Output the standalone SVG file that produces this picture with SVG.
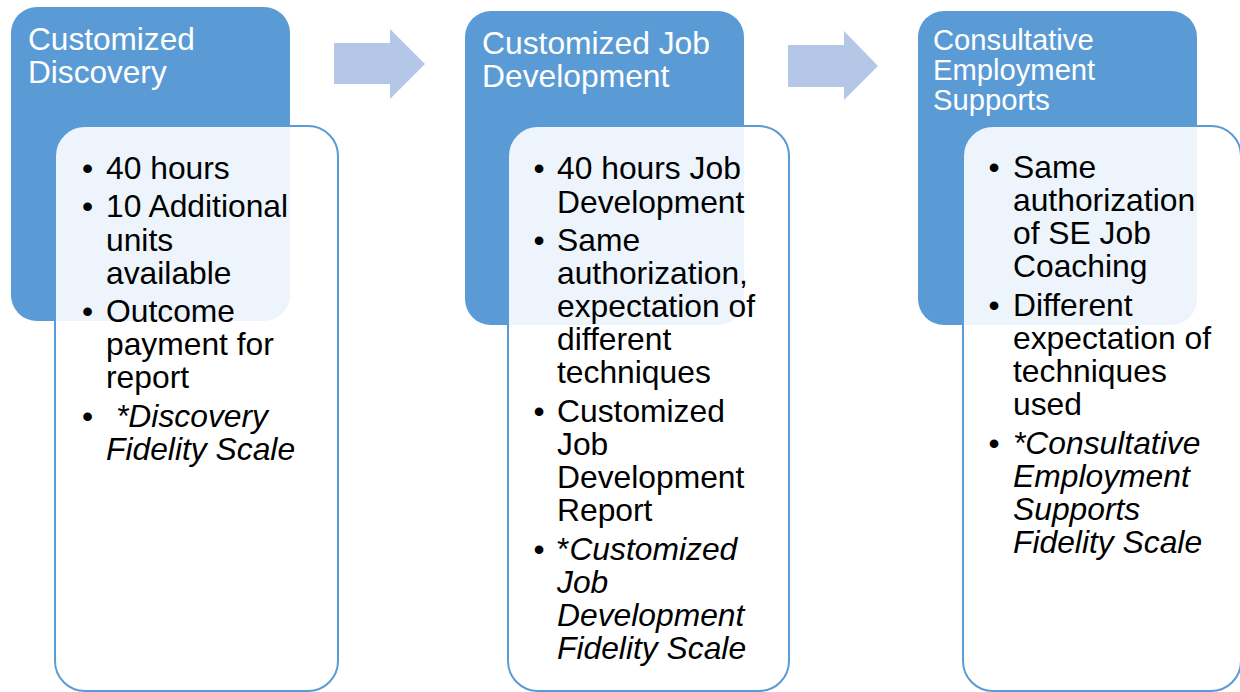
<svg xmlns="http://www.w3.org/2000/svg" width="1240" height="692" viewBox="0 0 1240 692">
  <style>
    .head { fill: #5B9BD5; }
    .body { fill: #FFFFFF; fill-opacity: 0.89; stroke: #5B9BD5; stroke-width: 2; }
    .arrow { fill: #B4C7E7; }
    .title { font-family: "Liberation Sans", Arial, sans-serif; fill: #FFFFFF; }
    .item { font-family: "Liberation Sans", Arial, sans-serif; font-size: 31.8px; fill: #000000; }
    .em { font-style: italic; }
  </style>

  <!-- connectors: block arrows between the stages -->
  <g id="connectors">
    <polygon class="arrow" points="334,43 390,43 390,29 425,64 390,99 390,84 334,84"/>
    <polygon class="arrow" points="788,45 844,45 844,31 878,66 844,100 844,87 788,87"/>
  </g>

  <!-- stage 1 -->
  <g id="customized-discovery">
    <rect class="head" x="11" y="7" width="279" height="314" rx="26"/>
    <text class="title" font-size="31.6" x="28" y="50">Customized</text>
    <text class="title" font-size="31.6" x="28" y="83">Discovery</text>
    <rect class="body" x="55" y="126" width="283" height="565" rx="30"/>
    <g class="item">
      <text x="82" y="179">•</text><text x="106" y="179">40 hours</text>
      <text x="82" y="217">•</text><text x="106" y="217">10 Additional</text>
      <text x="106" y="250.5">units</text>
      <text x="106" y="283.5">available</text>
      <text x="82" y="321.5">•</text><text x="106" y="321.5">Outcome</text>
      <text x="106" y="355">payment for</text>
      <text x="106" y="388">report</text>
      <text x="82" y="426.5">•</text><text class="em" x="116" y="426.5">*Discovery</text>
      <text class="em" x="106" y="459.5">Fidelity Scale</text>
    </g>
  </g>

  <!-- stage 2 -->
  <g id="customized-job-development">
    <rect class="head" x="465" y="11" width="279" height="314" rx="26"/>
    <text class="title" font-size="31.8" x="482" y="54">Customized Job</text>
    <text class="title" font-size="31.8" x="482" y="87">Development</text>
    <rect class="body" x="508" y="126" width="281" height="565" rx="30"/>
    <g class="item">
      <text x="533.5" y="179">•</text><text x="557" y="179">40 hours Job</text>
      <text x="557" y="212.5">Development</text>
      <text x="533.5" y="251">•</text><text x="557" y="251">Same</text>
      <text x="557" y="284">authorization,</text>
      <text x="557" y="317">expectation of</text>
      <text x="557" y="350">different</text>
      <text x="557" y="383">techniques</text>
      <text x="533.5" y="421.5">•</text><text x="557" y="421.5">Customized</text>
      <text x="557" y="454.5">Job</text>
      <text x="557" y="487.5">Development</text>
      <text x="557" y="520.5">Report</text>
      <text x="533.5" y="559.5">•</text><text x="557" y="559.5">*<tspan class="em">Customized</tspan></text>
      <text class="em" x="557" y="592.5">Job</text>
      <text class="em" x="557" y="625.5">Development</text>
      <text class="em" x="557" y="658.5">Fidelity Scale</text>
    </g>
  </g>

  <!-- stage 3 -->
  <g id="consultative-employment-supports">
    <rect class="head" x="918" y="11" width="279" height="314" rx="26"/>
    <text class="title" font-size="29.2" x="933" y="50">Consultative</text>
    <text class="title" font-size="29.2" x="933" y="80">Employment</text>
    <text class="title" font-size="29.2" x="933" y="110">Supports</text>
    <rect class="body" x="963" y="126" width="278" height="565" rx="30"/>
    <g class="item">
      <text x="988.5" y="178">•</text><text x="1013" y="178">Same</text>
      <text x="1013" y="211">authorization</text>
      <text x="1013" y="244">of SE Job</text>
      <text x="1013" y="277">Coaching</text>
      <text x="988.5" y="316">•</text><text x="1013" y="316">Different</text>
      <text x="1013" y="349">expectation of</text>
      <text x="1013" y="382">techniques</text>
      <text x="1013" y="415">used</text>
      <text x="988.5" y="454">•</text><text class="em" x="1013" y="454">*Consultative</text>
      <text class="em" x="1013" y="487">Employment</text>
      <text class="em" x="1013" y="520">Supports</text>
      <text class="em" x="1013" y="553">Fidelity Scale</text>
    </g>
  </g>
</svg>
